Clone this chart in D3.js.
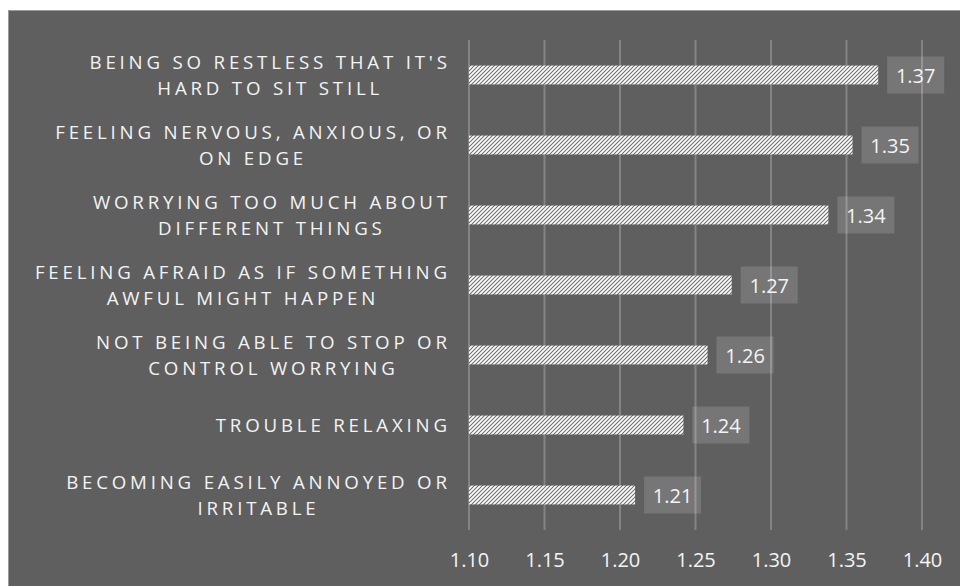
<!DOCTYPE html>
<html>
<head>
<meta charset="utf-8">
<script src="https://cdn.jsdelivr.net/npm/d3@7"></script>
<style>
  html, body { margin: 0; padding: 0; background: #ffffff; }
  svg { display: block; }
</style>
</head>
<body>
<svg id="chart" width="960" height="586"></svg>
<script>
// ---- data ----
const categories = [
  "BEING SO RESTLESS THAT IT'S\nHARD TO SIT STILL",
  "FEELING NERVOUS, ANXIOUS, OR\nON EDGE",
  "WORRYING TOO MUCH ABOUT\nDIFFERENT THINGS",
  "FEELING AFRAID AS IF SOMETHING\nAWFUL MIGHT HAPPEN",
  "NOT BEING ABLE TO STOP OR\nCONTROL WORRYING",
  "TROUBLE RELAXING",
  "BECOMING EASILY ANNOYED OR\nIRRITABLE"
];
const values = [1.371, 1.354, 1.338, 1.274, 1.258, 1.242, 1.210];
const tickValues = [1.10, 1.15, 1.20, 1.25, 1.30, 1.35, 1.40];

// ---- layout ----
const svg = d3.select("#chart");
const W = 960, H = 586;
const font = "'Open Sans', 'Noto Sans', sans-serif";
const bg = "#5f5f5f";
const textColor = "#f4f4f4";

svg.append("rect")
  .attr("x", 8.5).attr("y", 10.5)
  .attr("width", W).attr("height", H)
  .attr("fill", bg).attr("stroke", "#9a9a9a").attr("stroke-width", 1);

// hatch pattern (wide upward diagonal)
const defs = svg.append("defs");
const pat = defs.append("pattern")
  .attr("id", "hatch")
  .attr("patternUnits", "userSpaceOnUse")
  .attr("width", 4).attr("height", 4);
pat.append("rect").attr("width", 4).attr("height", 4).attr("fill", "#ffffff");
pat.append("path")
  .attr("d", "M-1,1 L1,-1 M0,4 L4,0 M3,5 L5,3")
  .attr("stroke", "#6e6e6e").attr("stroke-width", 1.1);

const x = d3.scaleLinear().domain([1.10, 1.40]).range([469, 922]);
const y = d3.scaleBand().domain(d3.range(categories.length)).range([40, 530]).paddingInner(0.73).paddingOuter(0.365);

// gridlines
svg.append("g").selectAll("line").data(tickValues).join("line")
  .attr("x1", d => x(d)).attr("x2", d => x(d))
  .attr("y1", 40).attr("y2", 530)
  .attr("stroke", "#838383").attr("stroke-width", 2);

// x axis tick labels
const xAxis = d3.axisBottom(x).tickValues(tickValues).tickFormat(d3.format(".2f")).tickSize(0).tickPadding(0);
const gx = svg.append("g").attr("transform", "translate(0,567)").call(xAxis);
gx.select(".domain").remove();
gx.selectAll("text")
  .attr("y", 0).attr("dy", null)
  .attr("fill", textColor)
  .style("font-family", font).style("font-size", "20px");

// bars
svg.append("g").selectAll("rect").data(values).join("rect")
  .attr("x", x(1.10))
  .attr("y", (d, i) => y(i))
  .attr("width", d => x(d) - x(1.10))
  .attr("height", y.bandwidth())
  .attr("fill", "url(#hatch)");

// value labels
const fmt = d3.format(".2f");
const lbl = svg.append("g").selectAll("g").data(values).join("g")
  .attr("transform", (d, i) => `translate(${x(d) + 9},${y(i) + y.bandwidth() / 2})`);
lbl.append("rect")
  .attr("x", 0).attr("y", -18.5).attr("width", 57).attr("height", 37)
  .attr("fill", "rgba(255,255,255,0.15)");
lbl.append("text")
  .attr("x", 28.5).attr("y", 7.5)
  .attr("text-anchor", "middle")
  .attr("fill", textColor)
  .style("font-family", font).style("font-size", "20px")
  .text(d => fmt(d));

// category labels
const ls = 3.8;
const lineH = 26;
const catG = svg.append("g");
categories.forEach((c, i) => {
  const lines = c.split("\n");
  const cy = y(i) + y.bandwidth() / 2;
  const texts = lines.map((ln, k) => catG.append("text")
    .attr("y", cy - (lines.length - 1) * lineH / 2 + k * lineH + 7)
    .attr("fill", textColor)
    .style("font-family", font).style("font-size", "18.7px")
    .style("letter-spacing", ls + "px")
    .text(ln));
  const widths = texts.map(t => t.node().getComputedTextLength() - ls);
  const maxW = d3.max(widths);
  const center = 447 - maxW / 2;
  texts.forEach((t, k) => t.attr("x", center - widths[k] / 2));
});
</script>
</body>
</html>
